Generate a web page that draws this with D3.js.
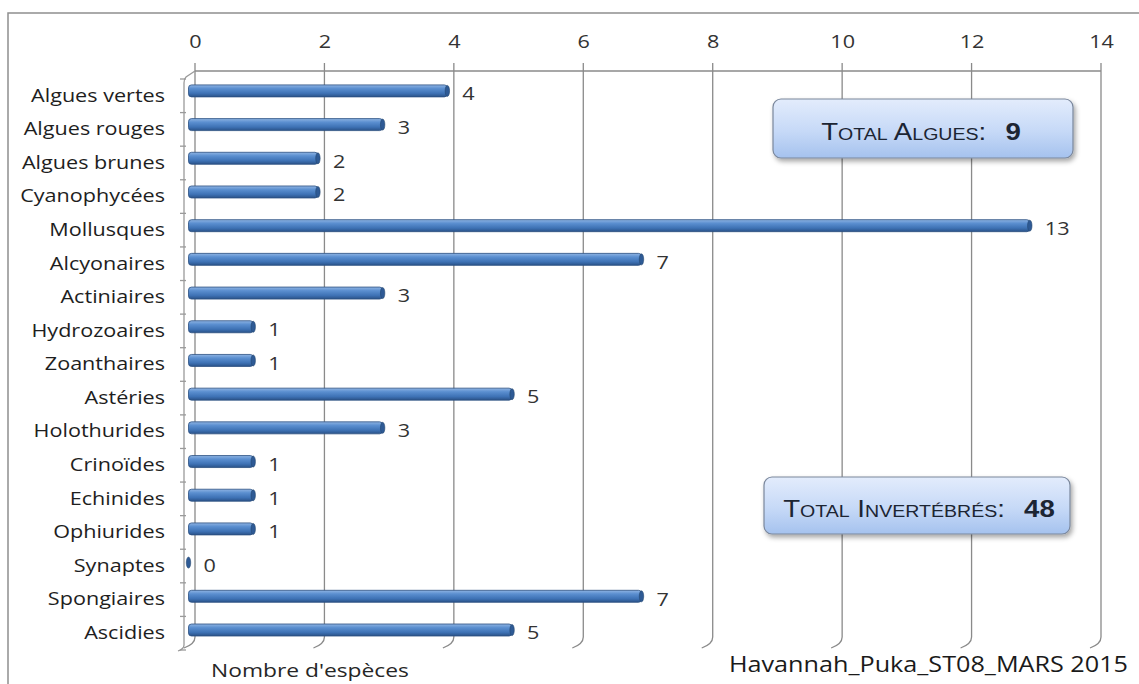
<!DOCTYPE html>
<html><head><meta charset="utf-8">
<script src="https://cdn.jsdelivr.net/npm/d3@7"></script>
<style>
html,body{margin:0;padding:0;background:#fff;}
svg{display:block;}
</style>
</head><body>
<script>
const categories = ["Algues vertes","Algues rouges","Algues brunes","Cyanophycées","Mollusques","Alcyonaires","Actiniaires","Hydrozoaires","Zoanthaires","Astéries","Holothurides","Crinoïdes","Echinides","Ophiurides","Synaptes","Spongiaires","Ascidies"];
const values = [4,3,2,2,13,7,3,1,1,5,3,1,1,1,0,7,5];
const xTicks = [0,2,4,6,8,10,12,14];
const axisTitle = "Nombre d'espèces";
const stationLabel = "Havannah_Puka_ST08_MARS 2015";
const totals = [{label:"Total Algues:", value:"9"},{label:"Total Invertébrés:", value:"48"}];

const W = 1139, H = 684;
const SX = 1.2; // horizontal stretch of the original image text
const FONT = "'Open Sans', sans-serif";

const svg = d3.select("body").append("svg").attr("width", W).attr("height", H);
const defs = svg.append("defs");

const bg = defs.append("linearGradient").attr("id","barGrad").attr("x1",0).attr("y1",0).attr("x2",0).attr("y2",1);
bg.append("stop").attr("offset","0%").attr("stop-color","#8fb4e3");
bg.append("stop").attr("offset","30%").attr("stop-color","#5b8fd0");
bg.append("stop").attr("offset","70%").attr("stop-color","#3e72b5");
bg.append("stop").attr("offset","100%").attr("stop-color","#2a5288");

const boxG = defs.append("linearGradient").attr("id","boxGrad").attr("x1",0).attr("y1",0).attr("x2",0).attr("y2",1);
boxG.append("stop").attr("offset","0%").attr("stop-color","#e3ecfc");
boxG.append("stop").attr("offset","55%").attr("stop-color","#c6d9f7");
boxG.append("stop").attr("offset","100%").attr("stop-color","#a5c2ee");

const sh = defs.append("filter").attr("id","shadow").attr("x","-10%").attr("y","-20%").attr("width","130%").attr("height","160%");
sh.append("feDropShadow").attr("dx",2).attr("dy",3).attr("stdDeviation",2.5).attr("flood-color","#000").attr("flood-opacity",0.35);

// outer frame
svg.append("rect").attr("x",8).attr("y",13).attr("width",1160).attr("height",700)
  .attr("fill","none").attr("stroke","#8f8f8f").attr("stroke-width",1.5);

// scales
const xBack = d3.scaleLinear().domain([0,14]).range([195, 1101]);
const depthX = -6.5;
const xFront = d3.scaleLinear().domain([0,14]).range([195+depthX, 1101+depthX]);
const yBar = d3.scalePoint().domain(categories).range([90.9, 630]);
const yWall = d3.scaleBand().domain(categories).range([79, 650]);

const gridTop = 71, gridBottom = 637;
const grid = svg.append("g").attr("stroke","#8a8a8a").attr("stroke-width",1.3).attr("fill","none");
// back wall vertical gridlines with 3D floor curl
grid.selectAll("path.v").data(xTicks).join("path").attr("class","v")
  .attr("d", d => { const x = xBack(d); return `M${x},${gridTop-8} L${x},${gridBottom} Q${x},${gridBottom+7} ${x-11},${gridBottom+11}`; });
// top line
grid.append("line").attr("x1", xBack(0)).attr("x2", xBack(14)).attr("y1", gridTop).attr("y2", gridTop);
// left wall
const wx = 184;
grid.append("path").attr("stroke","#9a9a9a")
  .attr("d", `M${xBack(0)},${gridTop} L${wx+2},${gridTop+6} Q${wx},${gridTop+8} ${wx},${gridTop+12} L${wx},${gridBottom+8} Q${wx},${gridBottom+12} ${wx-6},${gridBottom+14}`);
// left wall ticks
const wallTicks = d3.range(categories.length+1).map(i => yWall.range()[0] + i*yWall.step());
grid.selectAll("line.t").data(wallTicks).join("line").attr("class","t").attr("stroke","#9a9a9a")
  .attr("x1", wx-4).attr("x2", wx+2).attr("y1", d=>d).attr("y2", d=>d);

// top axis labels
const xAxis = d3.axisTop(xBack).tickValues(xTicks).tickFormat(d3.format("d")).tickSize(0).tickPadding(0);
const xa = svg.append("g").attr("transform", "translate(0,48)").call(xAxis);
xa.select(".domain").remove();
xa.selectAll("text").attr("font-family", FONT).attr("font-size", 18).attr("fill","#333")
  .attr("y", 0).attr("transform", `scale(${SX},1)`);

// category labels
const yAxis = d3.axisLeft(yWall).tickSize(0).tickPadding(0);
const ya = svg.append("g").attr("transform", "translate(165,0)").call(yAxis);
ya.select(".domain").remove();
ya.selectAll("text").attr("font-family", FONT).attr("font-size", 18).attr("fill","#1e1e1e")
  .attr("dy","0.32em").attr("transform", `scale(${SX},1)`);

// bars
const barH = 12;
const data = categories.map((c,i) => ({c, v: values[i]}));
const bars = svg.append("g");
bars.selectAll("rect").data(data).join("rect")
  .attr("x", xFront(0)).attr("y", d => yBar(d.c) - barH/2)
  .attr("width", d => xFront(d.v) - xFront(0)).attr("height", barH)
  .attr("rx", 3).attr("fill","url(#barGrad)").attr("stroke","#2b4f80").attr("stroke-width",0.8);
bars.selectAll("ellipse").data(data).join("ellipse")
  .attr("cx", d => xFront(d.v)).attr("cy", d => yBar(d.c))
  .attr("rx", 2.2).attr("ry", barH/2 - 0.5)
  .attr("fill","#2e5a95").attr("stroke","#24466f").attr("stroke-width",0.6);

// value labels
const vl = svg.append("g");
vl.selectAll("g").data(data).join("g")
  .attr("transform", d => `translate(${xFront(d.v)+15},${yBar(d.c)+3}) scale(${SX},1)`)
  .append("text").attr("font-family", FONT).attr("font-size", 18).attr("fill","#333")
  .attr("dy","0.35em").text(d => d.v);

// total boxes
const boxes = [{x:773,y:99,w:300,h:59},{x:764,y:477,w:306,h:57}];
boxes.forEach((b,i) => {
  const g = svg.append("g");
  g.append("rect").attr("x",b.x).attr("y",b.y).attr("width",b.w).attr("height",b.h).attr("rx",8)
    .attr("fill","url(#boxGrad)").attr("stroke","#7a879c").attr("stroke-width",1.2).attr("filter","url(#shadow)");
  const t = g.append("g").attr("transform", `translate(${b.x+b.w/2+ (i?2:-2)},${b.y+b.h/2+5}) scale(${SX},1)`)
    .append("text").attr("text-anchor","middle").attr("dy","0.3em")
    .attr("font-family","'Liberation Sans', Arial, sans-serif").attr("font-size",23)
    .attr("fill","#1c2533").style("font-variant","small-caps");
  t.append("tspan").text(totals[i].label);
  t.append("tspan").attr("dx", 16).attr("font-weight","bold").style("font-variant","normal").text(totals[i].value);
});

// bottom texts
svg.append("g").attr("transform", `translate(310,670) scale(${SX},1)`)
  .append("text").attr("text-anchor","middle").attr("dy","0.35em")
  .attr("font-family", FONT).attr("font-size", 19).attr("fill","#262626").text(axisTitle);
svg.append("g").attr("transform", `translate(1128,665) scale(${SX},1)`)
  .append("text").attr("text-anchor","end").attr("dy","0.35em")
  .attr("font-family", FONT).attr("font-size", 21).attr("fill","#1a1a1a").text(stationLabel);
</script>
</body></html>
